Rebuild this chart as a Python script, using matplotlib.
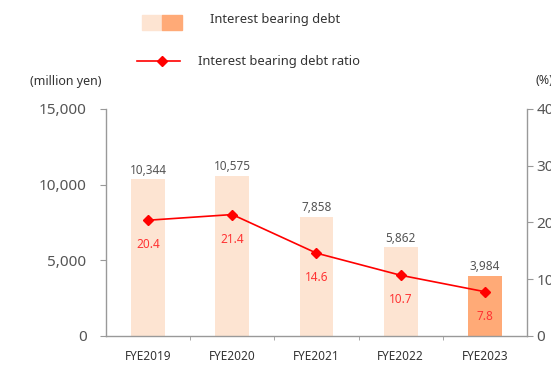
import matplotlib
matplotlib.use("Agg")
import matplotlib.pyplot as plt
from matplotlib.patches import Rectangle
from matplotlib.lines import Line2D

categories = ["FYE2019", "FYE2020", "FYE2021", "FYE2022", "FYE2023"]
debt = [10344, 10575, 7858, 5862, 3984]
ratio = [20.4, 21.4, 14.6, 10.7, 7.8]
left_ticks = [0, 5000, 10000, 15000]
right_ticks = [0, 10, 20, 30, 40]

light = "#FDE4D2"
strong = "#FFAA77"
red = "#FF0000"
gray_text = "#555555"
axis_gray = "#999999"

plt.rcParams["font.family"] = ["Noto Sans", "DejaVu Sans"]

fig = plt.figure(figsize=(5.51, 3.67), dpi=100)
ax = fig.add_axes([0.1924, 0.0845, 0.764, 0.6185])
ax2 = ax.twinx()

x = list(range(len(categories)))
colors = [light] * (len(categories) - 1) + [strong]
ax.bar(x, debt, width=0.4, color=colors, zorder=1)
for xi, v in zip(x, debt):
    ax.annotate(f"{v:,}", (xi, v), xytext=(0, 2), textcoords="offset points",
                ha="center", va="bottom", fontsize=8.5, color=gray_text)

ax.set_xlim(-0.5, len(categories) - 0.5)
ax.set_ylim(0, 15000)
ax.set_yticks(left_ticks)
ax.set_yticklabels([f"{t:,}" for t in left_ticks], fontsize=11, color=gray_text)
ax.set_xticks(x)
ax.set_xticklabels(categories, fontsize=8.5, color="#333333")
ax.tick_params(axis="x", length=0, pad=10)
ax.set_xticks([i + 0.5 for i in x[:-1]], minor=True)
ax.tick_params(axis="x", which="minor", length=3, color=axis_gray, direction="out")
ax.tick_params(axis="y", length=4, color=axis_gray, direction="out", pad=10)

ax2.plot(x, ratio, color=red, marker="D", markersize=5.5, linewidth=1.2, zorder=3)
for xi, v in zip(x, ratio):
    ax2.annotate(f"{v}", (xi, v), xytext=(0, -13), textcoords="offset points",
                 ha="center", va="top", fontsize=8.5, color="#FF3333")
ax2.set_ylim(0, 40)
ax2.set_yticks(right_ticks)
ax2.set_yticklabels([str(t) for t in right_ticks], fontsize=11, color=gray_text)
ax2.tick_params(axis="y", length=4, color=axis_gray, direction="out", pad=3)

for a in (ax, ax2):
    a.spines["top"].set_visible(False)
    for s in ("left", "right", "bottom"):
        a.spines[s].set_color(axis_gray)
        a.spines[s].set_linewidth(1.0)
ax.spines["right"].set_visible(False)
ax2.spines["left"].set_visible(False)
ax2.spines["bottom"].set_visible(False)

# Legend drawn in figure coordinates above the plot
W, H = 551, 367
def fx(px):
    return px / W
def fy(py):
    return 1 - py / H

fig.patches.append(Rectangle((fx(142), fy(30)), fx(20), 15 / H, transform=fig.transFigure,
                             color=light))
fig.patches.append(Rectangle((fx(162), fy(30)), fx(20), 15 / H, transform=fig.transFigure,
                             color=strong))
fig.text(fx(210), fy(20), "Interest bearing debt", fontsize=9.3, color="#333333",
         va="center", ha="left")
fig.lines.append(Line2D([fx(137), fx(180)], [fy(61), fy(61)], transform=fig.transFigure,
                        color=red, linewidth=1.2, marker=None))
fig.lines.append(Line2D([fx(161.5)], [fy(61)], transform=fig.transFigure,
                        color=red, marker="D", markersize=5.5, linestyle="none"))
fig.text(fx(198), fy(61), "Interest bearing debt ratio", fontsize=9.3, color="#333333",
         va="center", ha="left")

fig.text(fx(30), fy(81), "(million yen)", fontsize=9, color="#333333", va="center", ha="left")
fig.text(fx(536), fy(81), "(%)", fontsize=9, color="#333333", va="center", ha="left")

fig.savefig("out.png", dpi=100)
